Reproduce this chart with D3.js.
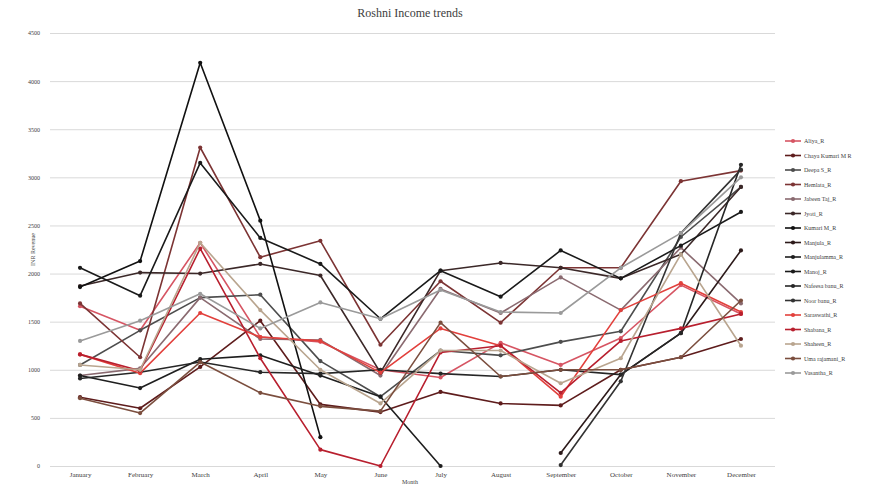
<!DOCTYPE html>
<html>
<head>
<meta charset="utf-8">
<script src="https://cdn.jsdelivr.net/npm/d3@7"></script>
<style>
  html, body { margin: 0; padding: 0; background: #fff; }
  svg { display: block; }
</style>
</head>
<body>
<svg id="chart" width="880" height="486"></svg>
<script>
// Monthly revenue (INR) per member
const months = ["January", "February", "March", "April", "May", "June",
  "July", "August", "September", "October", "November", "December"];

const names = ["Aliya_R", "Chaya Kumari M R", "Deepa S_R", "Hemlata_R", "Jabeen Taj_R",
  "Jyoti_R", "Kumari M_R", "Manjula_R", "Manjulamma_R", "Manoj_R", "Nafeesa banu_R",
  "Noor banu_R", "Saraswathi_R", "Shabana_R", "Shaheen_R", "Uma rajamani_R", "Vasantha_R"];

const aliya       = [1660, 1410, 2320, 1340, 1290, 1000,  920, 1280, 1050, 1330, 1880, 1580];
const chaya       = [ 715,  600, 1030, 1510,  640,  560,  770,  650,  630, 1000, 1130, 1320];
const deepa       = [1050, 1410, 1750, 1780, 1090,  720, 1200, 1150, 1290, 1400, 2380, 2900];
const hemlata     = [1690, 1130, 3310, 2170, 2340, 1260, 1920, 1490, 2060, 2060, 2960, 3070];
const jabeen      = [ 940, 1015, 1750, 1320, 1310,  940, 1840, 1590, 1960, 1620, 2270, 1690];
const jyoti       = [1870, 2010, 2000, 2100, 1980,  970, 2030, 2110, 2060, 1950, 2200, 2900];
const kumari      = [1860, 2130, 4190, 2550,  300, null, null, null, null, null, null, null];
const manjula     = [null, null, null, null, null, null, null, null,  135,  950, 1380, 2240];
const manjulamma  = [ 940,  810, 1110, 1150,  940,  720,    0, null, null, null, null, null];
const manoj       = [2060, 1770, 3150, 2370, 2100, 1530, 2030, 1760, 2240, 1950, 2290, 2640];
const nafeesa     = [ 910,  975, 1080,  975,  960, 1000,  960,  930, 1000,  950, 1380, 3130];
const noor        = [null, null, null, null, null, null, null, null,   10,  880, 2420, 3080];
const saraswathi  = [1160,  965, 1590, 1340, 1300,  970, 1430, 1250,  720, 1620, 1900, 1600];
const shabana     = [1160,  990, 2260, 1120,  170,    0, 1180, 1250,  760, 1300, 1430, 1580];
const shaheen     = [1050, 1000, 2320, 1620, 1000,  650, 1200, 1200,  860, 1120, 2200, 1250];
const uma         = [ 705,  550, 1080,  760,  620,  570, 1490,  930, 1000, 1000, 1130, 1720];
const vasantha    = [1300, 1510, 1790, 1430, 1700, 1530, 1830, 1600, 1590, 2060, 2420, 3000];

const yTicks = [0, 500, 1000, 1500, 2000, 2500, 3000, 3500, 4000, 4500];

const seriesValues = [aliya, chaya, deepa, hemlata, jabeen, jyoti, kumari, manjula,
  manjulamma, manoj, nafeesa, noor, saraswathi, shabana, shaheen, uma, vasantha];

const colors = ["#d65563", "#5e1c1c", "#4d4d4d", "#7c3434", "#8a6a70", "#3b2828",
  "#111111", "#2c1a1a", "#1e1e1e", "#1a1a1a", "#262626", "#333333",
  "#e2403c", "#b81f2e", "#b9a58f", "#7b4e3e", "#9a9a9a"];

const series = names.map((n, i) => ({ name: n, values: seriesValues[i], color: colors[i] }));

const svg = d3.select("#chart");
const margin = { left: 50, right: 109, top: 33, bottom: 20 };
const W = 880, H = 486;

const x = d3.scalePoint().domain(months).range([margin.left, W - margin.right]).padding(0.5);
const y = d3.scaleLinear().domain([0, 4500]).range([H - margin.bottom, margin.top]);

// Title
svg.append("text")
  .attr("x", 410).attr("y", 17)
  .attr("text-anchor", "middle")
  .attr("font-family", "Liberation Serif, serif")
  .attr("font-size", 12)
  .attr("fill", "#404040")
  .text("Roshni Income trends");

// Horizontal gridlines
svg.append("g")
  .attr("transform", `translate(${margin.left},0)`)
  .call(d3.axisLeft(y).tickValues(yTicks).tickSize(-(W - margin.right - margin.left + 4)).tickFormat(""))
  .call(g => g.select(".domain").remove())
  .call(g => g.selectAll("line").attr("stroke", "#d9d9d9").attr("stroke-width", 1));

// Y axis labels
svg.append("g")
  .attr("transform", `translate(${margin.left - 7},0)`)
  .call(d3.axisLeft(y).tickValues(yTicks).tickSize(0).tickFormat(d3.format("d")))
  .call(g => g.select(".domain").remove())
  .call(g => g.selectAll("text")
    .attr("font-family", "Liberation Serif, serif")
    .attr("font-size", 6)
    .attr("fill", "#404040"));

// X axis labels
svg.append("g")
  .attr("transform", `translate(0,${H - margin.bottom})`)
  .call(d3.axisBottom(x).tickSize(0).tickPadding(6))
  .call(g => g.select(".domain").attr("stroke", "#d9d9d9"))
  .call(g => g.selectAll("text")
    .attr("font-family", "Liberation Serif, serif")
    .attr("font-size", 7)
    .attr("fill", "#404040"));

// Axis titles
svg.append("text")
  .attr("transform", `translate(35,${(margin.top + H - margin.bottom) / 2}) rotate(-90)`)
  .attr("text-anchor", "middle")
  .attr("font-family", "Liberation Serif, serif")
  .attr("font-size", 6)
  .attr("fill", "#404040")
  .text("INR Revenue");

svg.append("text")
  .attr("x", 410).attr("y", 484)
  .attr("text-anchor", "middle")
  .attr("font-family", "Liberation Serif, serif")
  .attr("font-size", 6)
  .attr("fill", "#404040")
  .text("Month");

// Lines and markers
const line = d3.line()
  .defined(d => d.v !== null)
  .x(d => x(d.m))
  .y(d => y(d.v));

const plot = svg.append("g");
series.forEach(s => {
  const pts = s.values.map((v, i) => ({ m: months[i], v }));
  plot.append("path")
    .datum(pts)
    .attr("fill", "none")
    .attr("stroke", s.color)
    .attr("stroke-width", 1.6)
    .attr("stroke-linejoin", "round")
    .attr("d", line);
  plot.selectAll(null)
    .data(pts.filter(d => d.v !== null))
    .enter().append("circle")
    .attr("cx", d => x(d.m))
    .attr("cy", d => y(d.v))
    .attr("r", 2.1)
    .attr("fill", s.color);
});

// Legend
const legend = svg.append("g").attr("transform", "translate(785,141)");
series.forEach((s, i) => {
  const g = legend.append("g").attr("transform", `translate(0,${i * 14.5})`);
  g.append("line").attr("x1", 0).attr("x2", 16).attr("y1", 0).attr("y2", 0)
    .attr("stroke", s.color).attr("stroke-width", 1.6);
  g.append("circle").attr("cx", 8).attr("cy", 0).attr("r", 2.1).attr("fill", s.color);
  g.append("text").attr("x", 19).attr("y", 2)
    .attr("font-family", "Liberation Serif, serif")
    .attr("font-size", 6)
    .attr("fill", "#404040")
    .text(s.name);
});
</script>
</body>
</html>
